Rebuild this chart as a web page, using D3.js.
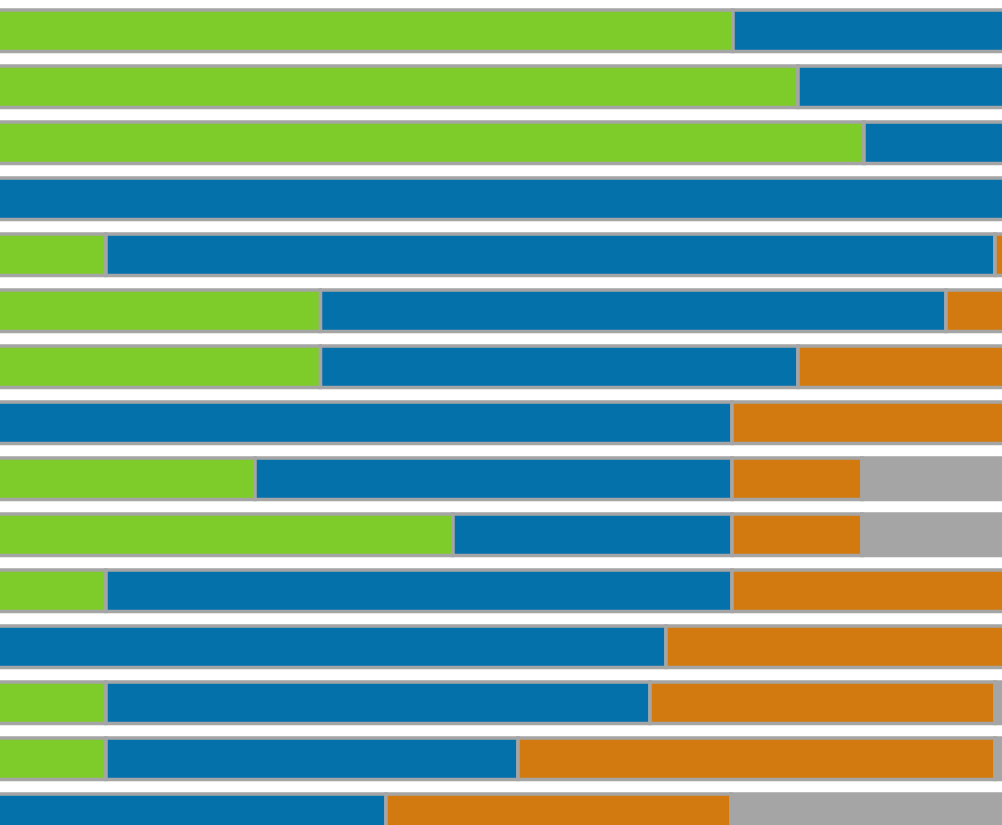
<!DOCTYPE html>
<html>
<head>
<meta charset="utf-8">
<script src="https://cdn.jsdelivr.net/npm/d3@7"></script>
<style>
  html, body { margin: 0; padding: 0; background: #ffffff; overflow: hidden; }
  svg { display: block; }
</style>
</head>
<body>
<svg id="chart" width="1002" height="825"></svg>
<script>
// Data
const categories = ["R1","R2","R3","R4","R5","R6","R7","R8","R9","R10","R11","R12","R13","R14","R15"];
const seriesNames = ["green","blue","orange","gray"];
const total = 106;
const greenValues  = [73.5, 80.0, 86.6, 0,    10.8, 32.25, 32.25, 0,    25.7, 45.5, 10.8, 0,    10.8, 10.8, 0];
const blueValues   = [32.5, 26.0, 19.4, 106,  88.9, 62.55, 47.75, 73.4, 47.7, 27.9, 62.6, 66.8, 54.4, 41.2, 38.8];
const orangeValues = [0,    0,    0,    0,    6.3,  11.2,  26.0,  32.6, 13.0, 13.0, 32.6, 39.2, 34.5, 47.7, 34.5];
const grayValues   = categories.map((c, i) => Math.max(0, total - greenValues[i] - blueValues[i] - orangeValues[i]));

const colors = {green: "#7ecc29", blue: "#0571ab", orange: "#d27a10", gray: "#a5a5a5"};
const strokeColor = "#a5a5a5";

const table = categories.map((c, i) => ({
  cat: c, green: greenValues[i], blue: blueValues[i], orange: orangeValues[i], gray: grayValues[i]
}));

const svg = d3.select("#chart");
const x = d3.scaleLinear().domain([0, 100]).range([-2, 998]);
const y = d3.scaleBand().domain(categories).range([10, 835.5]).paddingInner(0.259).paddingOuter(0);

const stack = d3.stack().keys(seriesNames);
const layers = stack(table);

svg.append("g").selectAll("g")
  .data(layers)
  .join("g")
  .attr("fill", d => colors[d.key])
  .selectAll("rect")
  .data(d => d.filter(s => s[1] - s[0] > 0))
  .join("rect")
  .attr("x", d => x(d[0]))
  .attr("y", d => y(d.data.cat))
  .attr("width", d => x(d[1]) - x(d[0]))
  .attr("height", y.bandwidth())
  .attr("stroke", strokeColor)
  .attr("stroke-width", 3.5);
</script>
</body>
</html>
